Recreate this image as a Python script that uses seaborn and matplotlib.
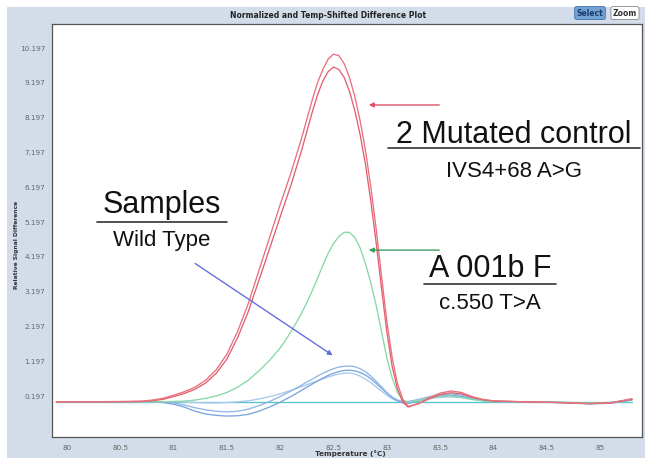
import numpy as np
import pandas as pd
import matplotlib.pyplot as plt
import seaborn as sns
from matplotlib.patches import Rectangle
from matplotlib.lines import Line2D

temps = [79.9, 80.2, 80.5, 80.7, 80.8, 80.9, 81.0, 81.1, 81.2, 81.3, 81.4, 81.5,
         81.6, 81.7, 81.8, 81.9,
         82.0, 82.05, 82.1, 82.15, 82.2, 82.25, 82.3, 82.35, 82.4, 82.45, 82.5, 82.55,
         82.6, 82.65, 82.7, 82.75, 82.8, 82.85, 82.9, 82.95, 83.0, 83.05, 83.1, 83.15,
         83.2,
         83.3, 83.4, 83.5, 83.6, 83.7, 83.8, 83.9, 84.0, 84.3, 84.6, 84.9, 85.1, 85.3]

red_outer = [0.03, 0.03, 0.04, 0.05, 0.08, 0.13, 0.22, 0.32, 0.45, 0.65, 0.95, 1.40,
             2.05, 2.85, 3.80, 4.75,
             5.70, 6.15, 6.60, 7.10, 7.60, 8.15, 8.70, 9.20, 9.58, 9.88, 10.02, 9.98,
             9.75, 9.35, 8.80, 8.10, 7.25, 6.20, 5.00, 3.65, 2.35, 1.30, 0.55, 0.10,
             -0.10,
             -0.02, 0.15, 0.28, 0.34, 0.30, 0.18, 0.10, 0.06, 0.03, 0.01, -0.02, 0.00, 0.12]
red_inner = [0.03, 0.03, 0.03, 0.04, 0.06, 0.10, 0.18, 0.27, 0.39, 0.57, 0.85, 1.26,
             1.87, 2.62, 3.52, 4.43,
             5.35, 5.80, 6.25, 6.75, 7.25, 7.80, 8.35, 8.85, 9.25, 9.52, 9.65, 9.58,
             9.35, 8.95, 8.40, 7.70, 6.85, 5.80, 4.60, 3.30, 2.05, 1.05, 0.40, 0.02,
             -0.12,
             -0.02, 0.12, 0.24, 0.29, 0.26, 0.16, 0.09, 0.05, 0.03, 0.01, -0.02, 0.00, 0.10]
green = [0.03, 0.03, 0.03, 0.03, 0.03, 0.03, 0.04, 0.05, 0.08, 0.13, 0.20, 0.30,
         0.45, 0.65, 0.92, 1.22,
         1.58, 1.80, 2.04, 2.30, 2.58, 2.88, 3.22, 3.58, 3.95, 4.30, 4.58, 4.78,
         4.90, 4.90, 4.75, 4.45, 4.00, 3.45, 2.80, 2.05, 1.30, 0.72, 0.30, 0.08,
         0.02,
         0.06, 0.14, 0.19, 0.20, 0.16, 0.10, 0.06, 0.04, 0.03, 0.02, -0.01, 0.01, 0.10]
blue_1 = [0.03, 0.03, 0.03, 0.03, 0.03, 0.02, 0.00, -0.06, -0.14, -0.20, -0.24, -0.26,
          -0.24, -0.18, -0.08, 0.04,
          0.18, 0.26, 0.34, 0.42, 0.51, 0.60, 0.68, 0.77, 0.85, 0.92, 0.98, 1.03,
          1.05, 1.06, 1.04, 0.98, 0.90, 0.77, 0.62, 0.46, 0.30, 0.17, 0.08, 0.04,
          0.04,
          0.10, 0.18, 0.24, 0.26, 0.22, 0.14, 0.08, 0.04, 0.03, 0.02, -0.02, 0.00, 0.10]
blue_2 = [0.03, 0.03, 0.03, 0.03, 0.03, 0.01, -0.04, -0.12, -0.24, -0.32, -0.36, -0.38,
          -0.37, -0.33, -0.24, -0.12,
          0.02, 0.10, 0.18, 0.27, 0.36, 0.45, 0.54, 0.63, 0.71, 0.79, 0.85, 0.90,
          0.93, 0.94, 0.92, 0.87, 0.80, 0.69, 0.56, 0.42, 0.28, 0.15, 0.06, 0.00,
          -0.02,
          0.05, 0.14, 0.20, 0.22, 0.19, 0.12, 0.07, 0.04, 0.02, 0.01, -0.03, -0.01, 0.08]
blue_3 = [0.03, 0.03, 0.03, 0.03, 0.03, 0.03, 0.03, 0.02, 0.01, 0.00, 0.00, 0.01,
          0.03, 0.06, 0.11, 0.18,
          0.26, 0.31, 0.36, 0.41, 0.47, 0.52, 0.58, 0.63, 0.69, 0.74, 0.79, 0.83,
          0.85, 0.86, 0.83, 0.77, 0.68, 0.58, 0.46, 0.34, 0.22, 0.12, 0.05, 0.02,
          0.02,
          0.06, 0.12, 0.16, 0.17, 0.15, 0.10, 0.06, 0.04, 0.03, 0.02, -0.01, 0.01, 0.09]
baseline = [0.03] * len(temps)

x_ticks = [80, 80.5, 81, 81.5, 82, 82.5, 83, 83.5, 84, 84.5, 85]
x_labels = ["80", "80.5", "81", "81.5", "82", "82.5", "83", "83.5", "84", "84.5", "85"]
y_ticks = [0.197, 1.197, 2.197, 3.197, 4.197, 5.197, 6.197, 7.197, 8.197, 9.197, 10.197]
y_labels = ["0.197", "1.197", "2.197", "3.197", "4.197", "5.197",
            "6.197", "7.197", "8.197", "9.197", "10.197"]

curves = {"baseline": baseline, "blue_3": blue_3, "blue_2": blue_2, "blue_1": blue_1,
          "green": green, "red_inner": red_inner, "red_outer": red_outer}
palette = {"baseline": "#58c4c8", "blue_3": "#a8c8ee", "blue_2": "#7aa4dc",
           "blue_1": "#8fb6e6", "green": "#86d8a6", "red_inner": "#e2606e",
           "red_outer": "#e8707c"}

df = pd.DataFrame({"temp": temps, **curves})
df = df.melt(id_vars="temp", var_name="curve", value_name="signal")

sns.set_style("white")
plt.rcParams["font.family"] = ["DejaVu Sans"]

W, H = 645, 462
fig = plt.figure(figsize=(W / 100, H / 100), dpi=100)
fig.patch.set_facecolor("white")
fig.patches.append(Rectangle((7 / W, 4 / H), 638 / W, 451 / H, transform=fig.transFigure,
                             facecolor="#d3dde9", edgecolor="none", zorder=-5))


def fx(px):
    return px / W


def fy(py):
    return 1 - py / H


ax = fig.add_axes([fx(52), fy(437), 590 / W, 413 / H])
ax.set_zorder(1)
ax.set_facecolor("white")
sns.lineplot(data=df, x="temp", y="signal", hue="curve", hue_order=list(curves),
             palette=palette, legend=False, estimator=None, sort=False, lw=0.95, ax=ax)

ax.set_xlim(79.859, 85.394)
ax.set_ylim(-0.981, 10.887)
ax.set_xticks(x_ticks)
ax.set_xticklabels(x_labels)
ax.set_yticks(y_ticks)
ax.set_yticklabels(y_labels)
ax.tick_params(axis="both", labelsize=5.2, labelcolor="#666666", length=2,
               color="#666666", width=0.6, pad=3)
ax.tick_params(axis="x", length=0, pad=6)
ax.set_xlabel("")
ax.set_ylabel("")
for s in ax.spines.values():
    s.set_color("#555555")
    s.set_linewidth(0.9)

# arrows
ax.annotate("", xy=(82.805, 8.56), xytext=(83.518, 8.56),
            arrowprops=dict(arrowstyle="-|>", color="#e0506a", lw=1.0, mutation_scale=7))
ax.annotate("", xy=(82.805, 4.39), xytext=(83.518, 4.39),
            arrowprops=dict(arrowstyle="-|>", color="#3f9f62", lw=1.0, mutation_scale=7))
ax.annotate("", xy=(82.514, 1.32), xytext=(81.18, 4.05),
            arrowprops=dict(arrowstyle="-|>", color="#6670d8", lw=1.0, mutation_scale=7))

# title bar and buttons
fig.text(fx(328), fy(15), "Normalized and Temp-Shifted Difference Plot", ha="center",
         va="center", fontsize=5.5, fontweight="bold", color="#222222")
fig.text(fx(590), fy(13), "Select", ha="center", va="center", fontsize=5.5,
         fontweight="bold", color="#1c3c6c",
         bbox=dict(boxstyle="round,pad=0.25", fc="#74a2d4", ec="#3c6ea8", lw=0.6))
fig.text(fx(625), fy(13), "Zoom", ha="center", va="center", fontsize=5.5,
         fontweight="bold", color="#333333",
         bbox=dict(boxstyle="round,pad=0.25", fc="white", ec="#888888", lw=0.6))

# axis labels
fig.text(fx(17), fy(245), "Relative Signal Difference", rotation=90, ha="center",
         va="center", fontsize=4.3, fontweight="bold", color="#333333")
fig.text(fx(350), fy(454), "Temperature (°C)", ha="center", va="center",
         fontsize=5.2, fontweight="bold", color="#333333")

# annotations (drawn above the axes)
big = dict(family="Liberation Sans", color="#111111", zorder=5)
fig.text(fx(514), fy(143), "2 Mutated control", ha="center", va="baseline", fontsize=22, **big)
fig.add_artist(Line2D([fx(388), fx(640)], [fy(148), fy(148)], color="#333333", lw=1.2, zorder=5))
fig.text(fx(514), fy(177), "IVS4+68 A>G", ha="center", va="baseline", fontsize=16, **big)

fig.text(fx(490), fy(277), "A 001b F", ha="center", va="baseline", fontsize=22, **big)
fig.add_artist(Line2D([fx(424), fx(556)], [fy(284), fy(284)], color="#333333", lw=1.2, zorder=5))
fig.text(fx(490), fy(309), "c.550 T>A", ha="center", va="baseline", fontsize=16, **big)

fig.text(fx(162), fy(213), "Samples", ha="center", va="baseline", fontsize=22, **big)
fig.add_artist(Line2D([fx(97), fx(227)], [fy(222), fy(222)], color="#333333", lw=1.2, zorder=5))
fig.text(fx(162), fy(246), "Wild Type", ha="center", va="baseline", fontsize=16, **big)

fig.savefig("out.png", dpi=100, facecolor=fig.get_facecolor())
